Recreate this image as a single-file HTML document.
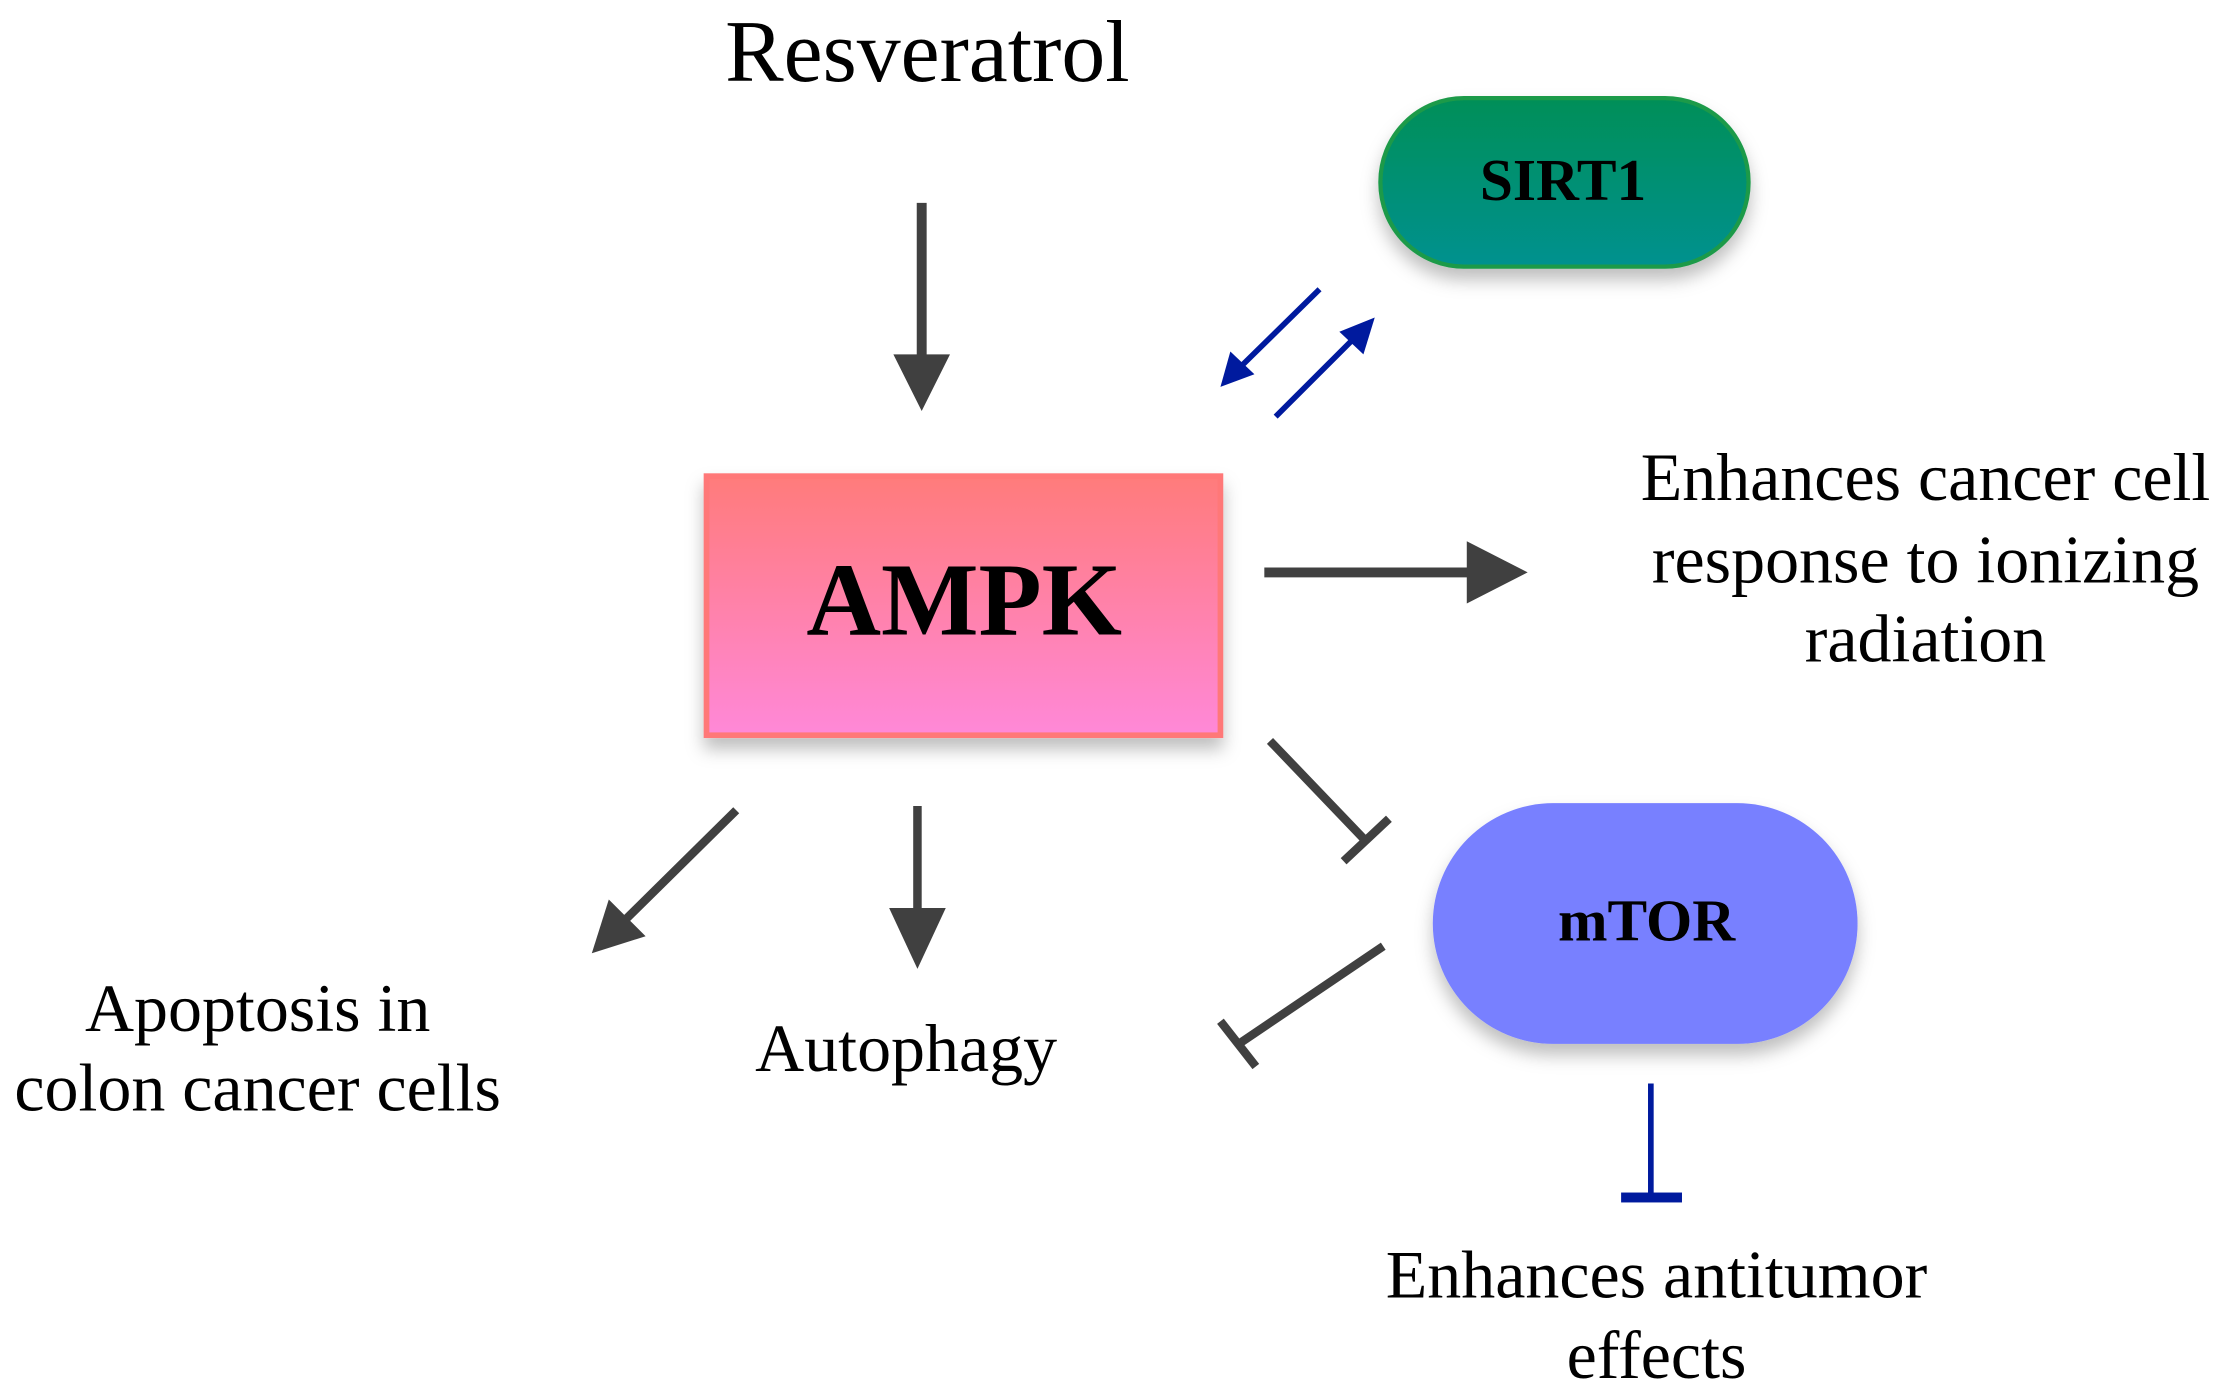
<!DOCTYPE html>
<html><head><meta charset="utf-8"><style>
html,body{margin:0;padding:0;background:#fff;}
svg{display:block;}
text{font-family:"Liberation Serif",serif;fill:#000;}
</style></head><body>
<svg width="2220" height="1394" viewBox="0 0 1568 984" xmlns="http://www.w3.org/2000/svg">
<defs>
<linearGradient id="g1" x1="0" y1="0" x2="0" y2="1"><stop offset="0" stop-color="#008f58"/><stop offset="1" stop-color="#00918f"/></linearGradient>
<linearGradient id="g2" x1="0" y1="0" x2="0" y2="1"><stop offset="0" stop-color="#ff7b7b"/><stop offset="1" stop-color="#ff88d8"/></linearGradient>
<filter id="sh" x="-20%" y="-20%" width="140%" height="150%"><feDropShadow dx="0" dy="8" stdDeviation="6" flood-color="#000" flood-opacity="0.25"/></filter>
</defs>
<text x="655" y="57" font-size="62" text-anchor="middle">Resveratrol</text>
<g fill="#404040" stroke="#404040">
<line x1="651" y1="143" x2="651" y2="255" stroke-width="7"/>
<polygon points="631,250 671,250 651,290" stroke="none"/>
<line x1="893" y1="404" x2="1040" y2="404" stroke-width="7"/>
<polygon points="1036,382 1036,426 1079,404" stroke="none"/>
<line x1="520" y1="572" x2="442" y2="649" stroke-width="6"/>
<polygon points="418,673 430,635 456,661" stroke="none"/>
<line x1="648" y1="569" x2="648" y2="645" stroke-width="6"/>
<polygon points="628,641 668,641 648,684" stroke="none"/>
<g fill="none" stroke-width="6">
<line x1="897" y1="523" x2="965" y2="594"/>
<line x1="949" y1="608" x2="981" y2="578"/>
<line x1="977" y1="668" x2="875" y2="737"/>
<line x1="862" y1="721" x2="887" y2="753"/>
</g>
</g>
<g stroke="#001a9e" fill="#001a9e">
<line x1="932" y1="204" x2="875" y2="260" stroke-width="4"/>
<polygon points="862,273 869,248 886,264" stroke="none"/>
<line x1="901" y1="294" x2="958" y2="237" stroke-width="4"/>
<polygon points="971,224 963,250 946,234" stroke="none"/>
<line x1="1166" y1="765" x2="1166" y2="845" stroke-width="4"/>
<rect x="1145" y="842" width="43" height="7" stroke="none"/>
</g>
<rect x="975" y="69" width="260" height="119" rx="59" fill="url(#g1)" stroke="#1e9a48" stroke-width="3" filter="url(#sh)"/>
<text x="1104" y="141" font-size="42" font-weight="bold" text-anchor="middle">SIRT1</text>
<rect x="499" y="336" width="363" height="183" fill="url(#g2)" stroke="#ff7878" stroke-width="4" filter="url(#sh)"/>
<text x="681" y="448" font-size="73" font-weight="bold" text-anchor="middle">AMPK</text>
<rect x="1012" y="567" width="300" height="170" rx="85" fill="#7880ff" filter="url(#sh)"/>
<text x="1163" y="664" font-size="42" font-weight="bold" text-anchor="middle">mTOR</text>
<g font-size="48" text-anchor="middle">
<text x="1360" y="353">Enhances cancer cell</text>
<text x="1360" y="411">response to ionizing</text>
<text x="1360" y="467">radiation</text>
<text x="182" y="728">Apoptosis in</text>
<text x="182" y="784">colon cancer cells</text>
<text x="640" y="756">Autophagy</text>
<text x="1170" y="916">Enhances antitumor</text>
<text x="1170" y="973">effects</text>
</g>
</svg>
</body></html>
